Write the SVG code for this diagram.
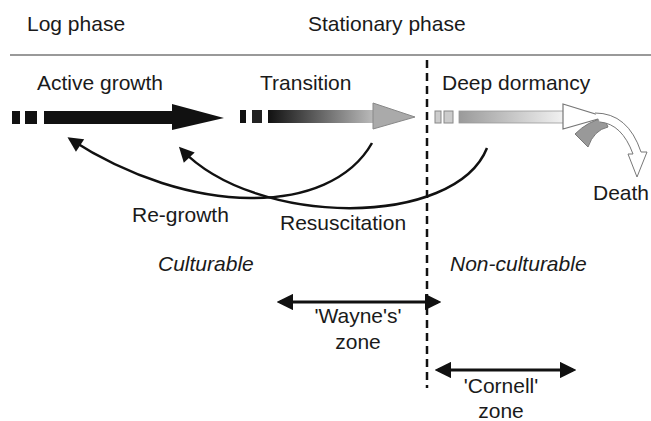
<svg xmlns="http://www.w3.org/2000/svg" width="651" height="421" viewBox="0 0 651 421">
<style>
text{font-family:"Liberation Sans",Arial,sans-serif;font-size:21px;fill:#1a1a1a}
.it{font-style:italic}
.c{stroke:#111;stroke-width:2.5;fill:none}
.z{stroke:#111;stroke-width:3;fill:none}
</style>
<defs>
<linearGradient id="g2" x1="0" x2="1" y1="0" y2="0"><stop offset="0" stop-color="#111"/><stop offset="1" stop-color="#bbb"/></linearGradient>
<linearGradient id="g3" x1="0" x2="1" y1="0" y2="0"><stop offset="0" stop-color="#9a9a9a"/><stop offset="1" stop-color="#f2f2f2"/></linearGradient>
<marker id="ah" viewBox="0 0 10 10" refX="8" refY="5" markerWidth="7" markerHeight="6" markerUnits="strokeWidth" orient="auto-start-reverse"><path d="M0,0 L10,5 L0,10 Z" fill="#111"/></marker>
<marker id="ahz" viewBox="0 0 10 10" refX="8" refY="5" markerWidth="5.5" markerHeight="5.5" markerUnits="strokeWidth" orient="auto-start-reverse"><path d="M0,0 L10,5 L0,10 Z" fill="#111"/></marker>
</defs>
<rect width="651" height="421" fill="#fff"/>
<g id="header">
<text x="27" y="31">Log phase</text>
<text x="308" y="31">Stationary phase</text>
<line x1="10" y1="55" x2="651" y2="55" stroke="#999" stroke-width="2"/>
</g>
<line id="divider" x1="427" y1="60" x2="427" y2="388" stroke="#111" stroke-width="2.5" stroke-dasharray="8 5"/>
<g id="active-growth">
<text x="37" y="90">Active growth</text>
<rect x="12" y="111" width="8" height="13" fill="#111"/>
<rect x="25" y="111" width="12" height="13" fill="#111"/>
<path d="M44,111 H172 V104 L224,118 L172,130 V124 H44 Z" fill="#111"/>
</g>
<g id="transition">
<text x="260" y="90">Transition</text>
<rect x="240" y="110" width="6" height="13" fill="#111"/>
<rect x="252" y="110" width="10" height="13" fill="#222"/>
<rect x="268" y="110" width="106" height="13" fill="url(#g2)"/>
<path d="M373,103 L415,117 L373,129 Z" fill="#aaa" stroke="#888" stroke-width="1"/>
</g>
<g id="deep-dormancy">
<text x="442" y="90">Deep dormancy</text>
<rect x="435" y="111" width="6" height="12" fill="#ccc" stroke="#888" stroke-width="1"/>
<rect x="444" y="111" width="9" height="12" fill="#ccc" stroke="#888" stroke-width="1"/>
<rect x="459" y="111" width="105" height="12" fill="url(#g3)" stroke="#999" stroke-width="0.8"/>
<path d="M563,104 L605,117 L563,129 Z" fill="#fff" stroke="#777" stroke-width="1.2"/>
</g>
<g id="death">
<path d="M575,134 Q588,121 604,118 L608,127 Q594,130 588,147 Z" fill="#999" stroke="#777" stroke-width="1"/>
<path d="M595,113 Q628,113 641,152 L647,152 L637,177 L628,154 L633,154 Q622,124 600,122" fill="#fff" stroke="#777" stroke-width="1"/>
<text x="593" y="200">Death</text>
</g>
<g id="connectors">
<path class="c" d="M372,143 C330,217 190,217 70,139" marker-end="url(#ah)"/>
<path class="c" d="M487,148 C455,228 256,228 181,149" marker-end="url(#ah)"/>
<path class="z" d="M280,302 H438" marker-start="url(#ahz)" marker-end="url(#ahz)"/>
<path class="z" d="M438,370 H573" marker-start="url(#ahz)" marker-end="url(#ahz)"/>
</g>
<g id="labels">
<text x="132" y="222">Re-growth</text>
<text x="280" y="230">Resuscitation</text>
<text class="it" x="158" y="271">Culturable</text>
<text class="it" x="450" y="271">Non-culturable</text>
<text x="358" y="323" text-anchor="middle">'Wayne's'</text>
<text x="358" y="349" text-anchor="middle">zone</text>
<text x="501" y="393" text-anchor="middle">'Cornell'</text>
<text x="501" y="418" text-anchor="middle">zone</text>
</g>
</svg>
